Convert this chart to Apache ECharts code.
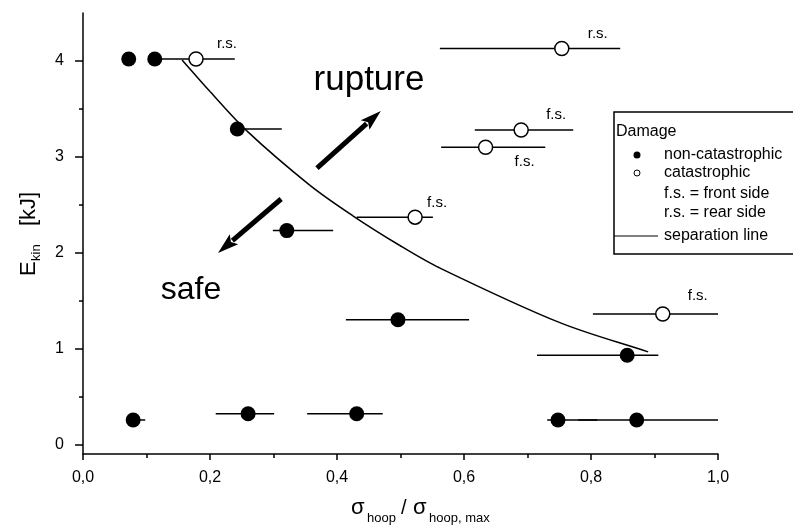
<!DOCTYPE html>
<html>
<head>
<meta charset="utf-8">
<script src="https://cdn.jsdelivr.net/npm/echarts@6/dist/echarts.min.js"></script>
<style>
  html, body { margin: 0; padding: 0; background: #fff; }
  #chart { width: 793px; height: 528px; }
</style>
</head>
<body>
<div id="chart"></div>
<script>
// Impact tests: kinetic energy vs. normalised hoop stress
// non-catastrophic damage (filled markers)
const nonCatX  = [0.072, 0.113, 0.243, 0.321, 0.496, 0.857, 0.079, 0.260, 0.431, 0.748, 0.872];
const nonCatY  = [4.02, 4.02, 3.29, 2.23, 1.30, 0.93, 0.255, 0.32, 0.32, 0.255, 0.255];
const nonCatLo = [null, null, 0.243, 0.299, 0.414, 0.715, 0.079, 0.209, 0.353, 0.731, 0.780];
const nonCatHi = [null, null, 0.313, 0.394, 0.608, 0.906, 0.098, 0.301, 0.472, 0.810, 1.000];

// catastrophic damage (open markers) with side note
const catX    = [0.178, 0.754, 0.690, 0.634, 0.523, 0.913];
const catY    = [4.02, 4.13, 3.28, 3.10, 2.37, 1.36];
const catLo   = [0.121, 0.562, 0.617, 0.564, 0.431, 0.803];
const catHi   = [0.239, 0.846, 0.772, 0.728, 0.551, 1.000];
const catNote = ['r.s.', 'r.s.', 'f.s.', 'f.s.', 'f.s.', 'f.s.'];

// separation line between safe and rupture regions
const sepX = [0.156, 0.200, 0.258, 0.357, 0.425, 0.499, 0.562, 0.751, 0.890];
const sepY = [4.01, 3.68, 3.27, 2.705, 2.385, 2.075, 1.84, 1.27, 0.965];

// direction arrows (tail, head) in data units
const arrowRupture = [[0.3685, 2.883], [0.469, 3.478]];
const arrowSafe    = [[0.312, 2.56], [0.2126, 1.997]];

// axis ticks
const yMajorTicks = [0, 1, 2, 3, 4];
const yMinorTicks = [0.5, 1.5, 2.5, 3.5];

// legend entries
const legendTitle = 'Damage';
const legendItems = ['non-catastrophic', 'catastrophic', 'f.s. = front side', 'r.s. = rear side', 'separation line'];

// label offsets (px) for the side notes, from marker centre
const noteOffsets = [[31, -15], [36, -15], [35, -15], [39, 15], [22, -14], [35, -18]];

const FONT = '"Liberation Sans", Arial, sans-serif';

const barsNonCat = nonCatX.map((x, i) => [nonCatY[i], nonCatLo[i], nonCatHi[i]]).filter(d => d[1] !== null);
const barsCat = catX.map((x, i) => [catY[i], catLo[i], catHi[i]]);
const errorBars = barsNonCat.concat(barsCat);

const chart = echarts.init(document.getElementById('chart'), null, { renderer: 'canvas' });

function renderBar(params, api) {
  const y = api.value(0);
  const p1 = api.coord([api.value(1), y]);
  const p2 = api.coord([api.value(2), y]);
  return {
    type: 'line',
    shape: { x1: p1[0], y1: p1[1], x2: p2[0], y2: p2[1] },
    style: { stroke: '#000', lineWidth: 1.5 }
  };
}

// smooth separation curve: one cubic segment per point pair,
// tangents from chord-length finite differences
function renderSep(params, api) {
  const i = params.dataIndex;
  const n = sepX.length;
  if (i >= n - 1) return null;
  const P = k => api.coord([sepX[Math.max(0, Math.min(n - 1, k))], sepY[Math.max(0, Math.min(n - 1, k))]]);
  const dist = (a, b) => Math.hypot(b[0] - a[0], b[1] - a[1]);
  const tangent = k => {
    const a = P(k - 1), c = P(k + 1);
    const b = P(k);
    const d = (k - 1 < 0 ? 0 : dist(a, b)) + (k + 1 > n - 1 ? 0 : dist(b, c));
    return [(c[0] - a[0]) / d, (c[1] - a[1]) / d];
  };
  const p1 = P(i), p2 = P(i + 1);
  const L = dist(p1, p2);
  const m1 = tangent(i), m2 = tangent(i + 1);
  return {
    type: 'bezierCurve',
    shape: {
      x1: p1[0], y1: p1[1], x2: p2[0], y2: p2[1],
      cpx1: p1[0] + m1[0] * L / 3, cpy1: p1[1] + m1[1] * L / 3,
      cpx2: p2[0] - m2[0] * L / 3, cpy2: p2[1] - m2[1] * L / 3
    },
    style: { stroke: '#000', lineWidth: 1.5, fill: null }
  };
}

function renderArrow(params, api) {
  const p0 = api.coord([api.value(0), api.value(1)]);
  const p1 = api.coord([api.value(2), api.value(3)]);
  const dx = p1[0] - p0[0], dy = p1[1] - p0[1];
  const len = Math.sqrt(dx * dx + dy * dy);
  const ux = dx / len, uy = dy / len;
  const headLen = 21, headHalf = 6.5;
  const bx = p1[0] - ux * headLen, by = p1[1] - uy * headLen;
  return {
    type: 'group',
    children: [
      {
        type: 'line',
        shape: { x1: p0[0], y1: p0[1], x2: bx + ux * 2, y2: by + uy * 2 },
        style: { stroke: '#000', lineWidth: 5 }
      },
      {
        type: 'polygon',
        shape: { points: [[p1[0], p1[1]], [bx - uy * headHalf, by + ux * headHalf], [bx + ux * 4, by + uy * 4], [bx + uy * headHalf, by - ux * headHalf]] },
        style: { fill: '#000' }
      }
    ]
  };
}

const arrowData = [
  [arrowRupture[0][0], arrowRupture[0][1], arrowRupture[1][0], arrowRupture[1][1]],
  [arrowSafe[0][0], arrowSafe[0][1], arrowSafe[1][0], arrowSafe[1][1]]
];

const catData = catX.map((x, i) => ({
  value: [x, catY[i]],
  label: {
    show: true,
    formatter: catNote[i],
    position: 'inside',
    offset: noteOffsets[i],
    color: '#000',
    fontSize: 15,
    fontFamily: FONT
  }
}));

const legX = 614, legY = 112;
const legRows = [155, 173, 194, 213, 236];

const option = {
  backgroundColor: '#fff',
  animation: false,
  grid: { left: 83, right: 75, top: 13, bottom: 74, containLabel: false },
  xAxis: {
    type: 'value',
    min: 0, max: 1, interval: 0.2,
    axisLine: { onZero: false, lineStyle: { color: '#000', width: 1.5 } },
    axisTick: { show: true, inside: false, length: 6, lineStyle: { color: '#000', width: 1.5 } },
    minorTick: { show: true, splitNumber: 2, length: 4, lineStyle: { color: '#000', width: 1.5 } },
    splitLine: { show: false },
    axisLabel: {
      color: '#000', fontSize: 16, fontFamily: FONT, margin: 16,
      formatter: v => v.toFixed(1).replace('.', ',')
    }
  },
  yAxis: [
    {
      type: 'value',
      min: -0.1, max: 4.5,
      axisLine: { show: true, onZero: false, lineStyle: { color: '#000', width: 1.5 } },
      axisTick: { show: true, inside: false, length: 8, customValues: yMajorTicks, lineStyle: { color: '#000', width: 1.5 } },
      axisLabel: { show: true, customValues: yMajorTicks, color: '#000', fontSize: 16, fontFamily: FONT, margin: 19, formatter: v => String(v) },
      splitLine: { show: false }
    },
    {
      type: 'value',
      min: -0.1, max: 4.5,
      position: 'left',
      axisLine: { show: false },
      axisTick: { show: true, inside: false, length: 4, customValues: yMinorTicks, lineStyle: { color: '#000', width: 1.5 } },
      axisLabel: { show: false },
      splitLine: { show: false }
    }
  ],
  series: [
    {
      type: 'custom',
      renderItem: renderSep,
      data: sepX.map((x, i) => [x, sepY[i]]),
      encode: { x: 0, y: 1 },
      z: 2
    },
    {
      type: 'custom',
      renderItem: renderBar,
      data: errorBars,
      encode: { x: [1, 2], y: 0 },
      z: 3
    },
    {
      type: 'custom',
      renderItem: renderArrow,
      data: arrowData,
      encode: { x: [0, 2], y: [1, 3] },
      z: 3
    },
    {
      type: 'scatter',
      data: nonCatX.map((x, i) => [x, nonCatY[i]]),
      symbol: 'circle',
      symbolSize: 15,
      itemStyle: { color: '#000', opacity: 1 },
      z: 5
    },
    {
      type: 'scatter',
      data: catData,
      symbol: 'circle',
      symbolSize: 14,
      itemStyle: { color: '#fff', borderColor: '#000', borderWidth: 1.5, opacity: 1 },
      z: 5
    }
  ],
  graphic: [
    { type: 'text', x: 369, y: 80, style: { text: 'rupture', font: '35px ' + FONT, fill: '#000', align: 'center', verticalAlign: 'middle' } },
    { type: 'text', x: 191, y: 290, style: { text: 'safe', font: '32px ' + FONT, fill: '#000', align: 'center', verticalAlign: 'middle' } },
    // y axis title E_kin [kJ]
    {
      type: 'group', x: 29, y: 276, rotation: Math.PI / 2,
      children: [
        { type: 'text', x: 0, y: 0, style: { text: 'E', font: '22px ' + FONT, fill: '#000', align: 'left', verticalAlign: 'middle' } },
        { type: 'text', x: 15, y: 7, style: { text: 'kin', font: '13px ' + FONT, fill: '#000', align: 'left', verticalAlign: 'middle' } },
        { type: 'text', x: 50, y: 0, style: { text: '[kJ]', font: '22px ' + FONT, fill: '#000', align: 'left', verticalAlign: 'middle' } }
      ]
    },
    // x axis title σ_hoop / σ_hoop, max
    {
      type: 'group', x: 351, y: 508,
      children: [
        { type: 'text', x: 0, y: 0, style: { text: 'σ', font: '22px ' + FONT, fill: '#000', align: 'left', verticalAlign: 'middle' } },
        { type: 'text', x: 16, y: 10, style: { text: 'hoop', font: '13px ' + FONT, fill: '#000', align: 'left', verticalAlign: 'middle' } },
        { type: 'text', x: 50, y: 0, style: { text: '/', font: '20px ' + FONT, fill: '#000', align: 'left', verticalAlign: 'middle' } },
        { type: 'text', x: 62, y: 0, style: { text: 'σ', font: '22px ' + FONT, fill: '#000', align: 'left', verticalAlign: 'middle' } },
        { type: 'text', x: 78, y: 10, style: { text: 'hoop, max', font: '13px ' + FONT, fill: '#000', align: 'left', verticalAlign: 'middle' } }
      ]
    },
    // legend box
    {
      type: 'group', x: 0, y: 0, z: 10,
      children: [
        { type: 'rect', shape: { x: legX, y: legY, width: 200, height: 142 }, style: { fill: '#fff', stroke: '#000', lineWidth: 1.5 } },
        { type: 'text', x: legX + 2, y: 132, style: { text: legendTitle, font: '16px ' + FONT, fill: '#000', verticalAlign: 'middle' } },
        { type: 'circle', shape: { cx: 637, cy: legRows[0], r: 3.5 }, style: { fill: '#000' } },
        { type: 'circle', shape: { cx: 637, cy: legRows[1], r: 3 }, style: { fill: '#fff', stroke: '#000', lineWidth: 1 } },
        { type: 'line', shape: { x1: legX, y1: legRows[4], x2: 658, y2: legRows[4] }, style: { stroke: '#000', lineWidth: 1.2 } }
      ].concat(legendItems.map((t, i) => ({
        type: 'text', x: 664, y: legRows[i],
        style: { text: t, font: '16px ' + FONT, fill: '#000', verticalAlign: 'middle' }
      })))
    }
  ]
};

chart.setOption(option);
</script>
</body>
</html>
